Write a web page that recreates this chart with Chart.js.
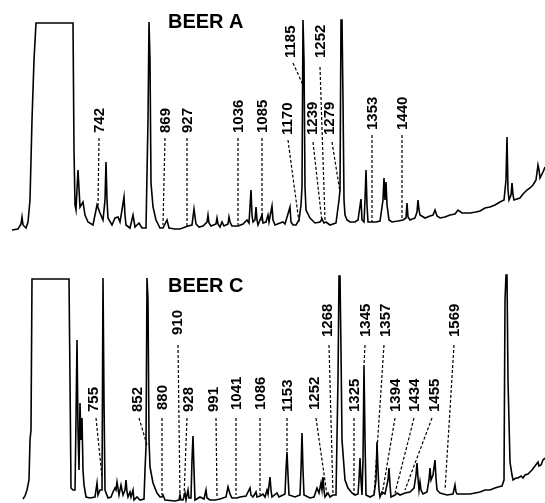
<!DOCTYPE html>
<html>
<head>
<meta charset="utf-8">
<script src="https://cdn.jsdelivr.net/npm/chart.js@4.4.0/dist/chart.umd.min.js"></script>
<style>
  body { margin: 0; background: #fff; }
  canvas { display: block; }
</style>
</head>
<body>
<canvas id="beerA" width="545" height="250"></canvas>
<canvas id="beerC" width="545" height="253"></canvas>
<script>
// detector trace, [scan, response]
const beerA = [
  [12,20],[18,21],[21,26],[22,33],[23,25],[26,22],[28,28],[30,50],[32,130],[34,190],[36,227],[73,227],
  [74,100],[75,45],[76,40],[78,80],[80,43],[83,48],[85,35],[88,28],[93,25],[95,35],[97,45],[100,37],
  [103,30],[105,50],[106,88],[107,50],[108,32],[112,25],[115,32],[118,33],[120,28],[122,40],[124,53],
  [125,35],[126,25],[130,22],[133,35],[135,23],[139,27],[142,22],[146,22],[148,130],[149,228],[150,190],
  [151,67],[153,43],[156,30],[160,22],[163,22],[167,30],[169,22],[175,21],[180,21],[188,24],[192,25],
  [194,41],[196,26],[199,23],[203,24],[207,28],[208,35],[209,27],[211,24],[216,26],[217,32],[218,26],
  [220,23],[222,28],[224,24],[228,26],[229,33],[230,28],[232,24],[238,24],[243,26],[247,30],[249,27],
  [251,60],[252,35],[253,28],[255,30],[256,43],[257,30],[258,25],[262,35],[263,27],[266,28],[268,35],
  [269,28],[272,44],[273,30],[275,25],[280,27],[283,28],[285,26],[290,43],[291,28],[293,25],[296,25],
  [299,30],[301,45],[302,63],[303,230],[304,190],[305,63],[306,40],[310,32],[315,27],[320,28],[322,31],
  [324,27],[326,28],[330,25],[336,27],[339,50],[340,60],[341,230],[342,230],[343,150],[344,50],[345,35],
  [347,30],[350,28],[355,28],[358,30],[361,51],[362,30],[364,28],[365,50],[366,80],[367,45],[368,28],
  [372,28],[376,28],[380,29],[383,50],[384,72],[385,50],[386,68],[387,45],[389,30],[392,28],[398,29],
  [403,30],[406,32],[407,47],[408,33],[410,30],[415,32],[417,38],[418,50],[419,40],[420,35],[425,32],
  [430,34],[433,35],[435,40],[437,34],[440,32],[445,33],[450,35],[455,36],[458,40],[462,37],[470,37],
  [476,38],[480,39],[485,42],[490,43],[495,45],[500,48],[504,50],[506,70],[507,113],[508,60],[509,50],
  [511,55],[512,67],[513,55],[514,50],[517,51],[520,52],[523,56],[527,60],[530,62],[533,65],[536,70],
  [538,85],[539,80],[540,72],[543,78],[545,83]
];

const beerC = [
  [23,4],[25,7],[27,13],[29,23],[30,63],[31,73],[32,224],[69,224],[70,123],[71,15],[73,13],[75,13],
  [76,83],[77,163],[78,73],[79,33],[80,100],[81,63],[82,85],[83,33],[84,18],[86,6],[90,5],[95,6],
  [96,13],[97,20],[98,8],[100,13],[102,13],[103,225],[104,103],[105,13],[108,5],[111,6],[113,11],
  [115,15],[116,13],[117,21],[119,8],[121,18],[123,8],[125,13],[126,23],[127,11],[128,6],[130,11],
  [131,6],[133,13],[134,3],[137,6],[140,3],[144,4],[145,33],[146,56],[147,225],[148,203],[149,63],
  [150,36],[153,20],[157,10],[160,6],[162,6],[163,8],[165,3],[175,2],[179,3],[180,8],[181,3],[183,3],
  [185,10],[186,3],[188,13],[189,5],[191,5],[192,43],[193,67],[194,33],[195,3],[200,6],[204,4],[206,13],
  [207,5],[210,3],[215,3],[220,4],[226,6],[228,16],[230,9],[232,5],[237,5],[240,6],[246,7],[248,11],
  [250,15],[251,8],[253,6],[256,11],[257,6],[260,7],[263,9],[265,6],[267,13],[268,9],[270,26],[271,13],
  [272,6],[277,10],[279,6],[283,8],[285,9],[286,33],[287,51],[288,28],[289,8],[295,6],[300,8],[301,33],
  [302,70],[303,33],[304,8],[310,5],[314,6],[317,15],[319,10],[321,20],[322,13],[323,26],[324,13],
  [325,6],[328,10],[330,6],[333,8],[336,8],[338,123],[339,227],[340,227],[341,153],[342,63],[345,23],
  [348,15],[352,10],[355,8],[358,9],[359,23],[360,45],[361,23],[362,8],[363,43],[364,138],[365,63],
  [366,8],[370,6],[374,8],[376,23],[377,61],[378,33],[379,13],[380,6],[382,11],[385,9],[388,23],[389,35],
  [390,18],[391,6],[395,8],[397,10],[400,8],[405,10],[410,11],[414,15],[416,28],[417,40],[418,25],
  [419,13],[420,21],[421,13],[423,9],[427,11],[429,23],[430,35],[431,23],[433,28],[435,43],[436,25],
  [437,13],[440,10],[447,8],[453,9],[455,18],[456,11],[457,9],[465,9],[470,9],[475,10],[480,11],
  [485,13],[490,13],[495,15],[498,16],[502,17],[504,23],[505,203],[506,228],[507,228],[508,123],
  [510,41],[512,28],[513,23],[516,25],[518,25],[521,27],[523,25],[525,28],[528,29],[530,31],[532,33],
  [535,37],[538,41],[539,37],[541,38],[543,43],[545,45]
];

// retention index labels: [text, label scan, label response, leader start scan, start resp, end scan, end resp]
const peaksA = [
  ['742', 99, 117, 99, 112, 98, 43],
  ['869', 165, 117, 165, 112, 163, 25],
  ['927', 187, 117, 187, 112, 187, 24],
  ['1036', 238, 117, 238, 112, 238, 25],
  ['1085', 262, 117, 262, 112, 262, 27],
  ['1170', 287, 115, 288, 110, 299, 28],
  ['1185', 290, 192, 293, 187, 303, 165],
  ['1239', 312, 115, 313, 108, 322, 28],
  ['1252', 320, 192, 320, 183, 325, 30],
  ['1279', 329, 115, 332, 108, 340, 58],
  ['1353', 372, 120, 372, 115, 372, 28],
  ['1440', 402, 120, 402, 115, 402, 30]
];

const peaksC = [
  ['755', 93, 91, 96, 85, 102, 26],
  ['852', 137, 91, 139, 85, 147, 58],
  ['880', 162, 93, 162, 85, 162, 8],
  ['910', 177, 168, 178, 158, 180, 6],
  ['928', 188, 91, 187, 85, 184, 6],
  ['991', 213, 91, 216, 85, 217, 6],
  ['1041', 236, 93, 236, 85, 236, 8],
  ['1086', 260, 93, 260, 85, 260, 8],
  ['1153', 287, 91, 287, 85, 287, 51],
  ['1252', 314, 93, 316, 85, 327, 8],
  ['1268', 327, 166, 329, 158, 333, 8],
  ['1325', 354, 91, 354, 85, 354, 8],
  ['1345', 365, 166, 365, 158, 364, 138],
  ['1357', 385, 166, 384, 158, 374, 8],
  ['1394', 395, 91, 395, 85, 382, 8],
  ['1434', 414, 91, 414, 85, 395, 10],
  ['1455', 434, 91, 432, 85, 405, 13],
  ['1569', 454, 166, 454, 158, 445, 13]
];

// sample titles: [text, scan, response]
const titleA = ['BEER A', 168, 222];
const titleC = ['BEER C', 168, 211];

const peakLabels = {
  id: 'peakLabels',
  afterDatasetsDraw(chart, args, opts) {
    const { ctx } = chart;
    const xs = chart.scales.x, ys = chart.scales.y;
    ctx.save();
    ctx.fillStyle = '#000';
    ctx.strokeStyle = '#000';
    ctx.lineWidth = 1.2;
    ctx.setLineDash([3, 2]);
    opts.peaks.forEach(p => {
      ctx.beginPath();
      ctx.moveTo(xs.getPixelForValue(p[3]), ys.getPixelForValue(p[4]));
      ctx.lineTo(xs.getPixelForValue(p[5]), ys.getPixelForValue(p[6]));
      ctx.stroke();
    });
    ctx.setLineDash([]);
    ctx.font = 'bold 15px "Liberation Sans", Arial, sans-serif';
    ctx.textAlign = 'left';
    ctx.textBaseline = 'middle';
    opts.peaks.forEach(p => {
      ctx.save();
      ctx.translate(xs.getPixelForValue(p[1]), ys.getPixelForValue(p[2]));
      ctx.rotate(-Math.PI / 2);
      ctx.fillText(p[0], 0, 1);
      ctx.restore();
    });
    const t = opts.title;
    ctx.font = 'bold 20px "Liberation Sans", Arial, sans-serif';
    ctx.textBaseline = 'alphabetic';
    ctx.fillText(t[0], xs.getPixelForValue(t[1]), ys.getPixelForValue(t[2]));
    ctx.restore();
  }
};

function makeTrace(id, trace, peaks, title, top) {
  return new Chart(document.getElementById(id), {
    type: 'line',
    data: {
      datasets: [{
        data: trace.map(([x, y]) => ({ x, y })),
        borderColor: '#000',
        borderWidth: 1.6,
        pointRadius: 0,
        tension: 0,
      }],
    },
    options: {
      responsive: false,
      animation: false,
      layout: { padding: 0 },
      scales: {
        x: { type: 'linear', min: 0, max: 545, display: false },
        y: { min: 0, max: top, display: false },
      },
      plugins: {
        legend: { display: false },
        tooltip: { enabled: false },
        peakLabels: { peaks, title },
      },
    },
    plugins: [peakLabels],
  });
}

makeTrace('beerA', beerA, peaksA, titleA, 250);
makeTrace('beerC', beerC, peaksC, titleC, 253);
</script>
</body>
</html>
